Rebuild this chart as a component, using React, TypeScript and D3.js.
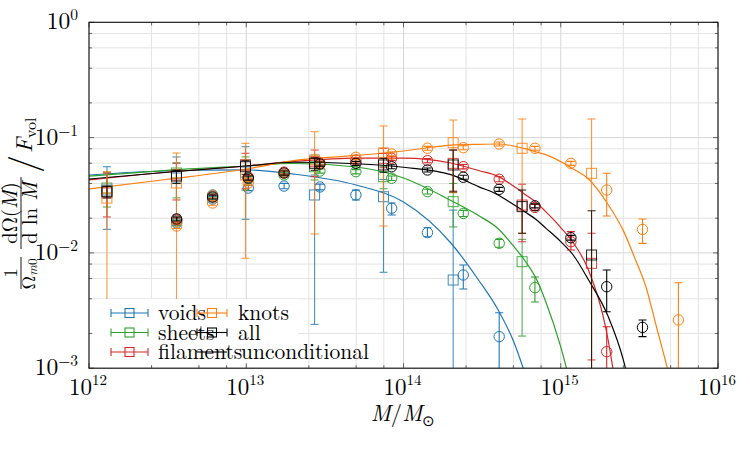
import React from "react";
import * as d3 from "d3";

// ---------- data ----------
const circleMass = [3.61e12, 6.11e12, 1.03e13, 1.74e13, 2.94e13, 4.98e13, 8.41e13, 1.42e14, 2.4e14, 4.06e14, 6.85e14, 1.16e15, 1.96e15, 3.31e15, 5.6e15];
const squareMass = [1.3e12, 3.6e12, 9.89e12, 2.72e13, 7.46e13, 2.07e14, 5.68e14, 1.57e15];

const voidsCircle = [0.0182, 0.0293, 0.0365, 0.038, 0.0373, 0.0318, 0.0244, 0.015, 0.00643, 0.00188, null, null, null, null, null];
const voidsCircleLo = [0.0172, 0.0278, 0.0347, 0.036, 0.0352, 0.0288, 0.0213, 0.0138, 0.00486, 0.0005, null, null, null, null, null];
const voidsCircleHi = [0.0192, 0.0309, 0.0384, 0.0401, 0.0395, 0.035, 0.0271, 0.0165, 0.00785, 0.00303, null, null, null, null, null];
const voidsSquare = [0.0351, 0.0446, 0.0503, 0.0318, 0.0307, 0.00582, null, null];
const voidsSquareLo = [0.016, 0.0213, 0.01956, 0.0024, 0.00679, 0.0002, null, null];
const voidsSquareHi = [0.0559, 0.0679, 0.0834, 0.0474, 0.0433, 0.0235, null, null];
const voidsCurveMass = [1e12, 3e12, 1e13, 2e13, 5e13, 1e14, 2e14, 3e14, 4e14, 5e14, 6e14];
const voidsCurve = [0.0474, 0.0513, 0.0524, 0.0483, 0.0388, 0.0276, 0.01219, 0.00582, 0.0032, 0.00172, 0.000856];

const sheetsCircle = [0.0189, 0.0318, 0.0437, 0.0474, 0.0513, 0.0506, 0.0444, 0.034, 0.022, 0.01212, 0.00499, null, null, null, null];
const sheetsCircleLo = [0.0181, 0.0305, 0.042, 0.0455, 0.0492, 0.0485, 0.0425, 0.0324, 0.0207, 0.0112, 0.00375, null, null, null, null];
const sheetsCircleHi = [0.0197, 0.0331, 0.0455, 0.0494, 0.0535, 0.0528, 0.0464, 0.0357, 0.0234, 0.0131, 0.00618, null, null, null, null];
const sheetsSquare = [0.0365, 0.0493, 0.0579, 0.0559, 0.0458, 0.0278, 0.00839, null];
const sheetsSquareLo = [0.025, 0.03, 0.035, 0.0429, 0.036, 0.0168, 0.0019, null];
const sheetsSquareHi = [0.05, 0.06, 0.068, 0.0706, 0.056, 0.04, 0.0131, null];
const sheetsCurveMass = [1e12, 3e12, 1e13, 2e13, 5e13, 1e14, 2e14, 3e14, 4e14, 5e14, 6e14, 7e14, 8e14, 1e15, 1.2e15];
const sheetsCurve = [0.0464, 0.0518, 0.0567, 0.0596, 0.0556, 0.0446, 0.0285, 0.0211, 0.0162, 0.01148, 0.00834, 0.00594, 0.00383, 0.00153, 0.000586];

const filamentsCircle = [0.0193, 0.0311, 0.0455, 0.0502, 0.0602, 0.0639, 0.0661, 0.0631, 0.0559, 0.0435, 0.0248, 0.0125, 0.00139, null, null];
const filamentsCircleLo = [0.0185, 0.0298, 0.0437, 0.0482, 0.0578, 0.0614, 0.0635, 0.0606, 0.0535, 0.0414, 0.0234, 0.0106, 0.0004, null, null];
const filamentsCircleHi = [0.0201, 0.0324, 0.0474, 0.0523, 0.0627, 0.0665, 0.0688, 0.0657, 0.0584, 0.0457, 0.0263, 0.0153, 0.00229, null, null];
const filamentsSquare = [0.0331, 0.0474, 0.0579, 0.0618, 0.0661, 0.0598, 0.026, 0.00812];
const filamentsSquareLo = [0.0205, 0.0288, 0.036, 0.0458, 0.0548, 0.0344, 0.0125, 0.00118];
const filamentsSquareHi = [0.0493, 0.0602, 0.0731, 0.078, 0.0808, 0.078, 0.0394, 0.0148];
const filamentsCurveMass = [1e12, 3e12, 1e13, 2e13, 5e13, 1e14, 2e14, 3e14, 4e14, 5e14, 6e14, 7e14, 8e14, 1e15, 1.2e15, 1.5e15, 2e15, 2.2e15];
const filamentsCurve = [0.0429, 0.0498, 0.0567, 0.0621, 0.0665, 0.0665, 0.0602, 0.0518, 0.0461, 0.038, 0.0318, 0.0273, 0.0229, 0.0166, 0.01226, 0.00711, 0.00176, 0.000806];

const knotsCircle = [0.0171, 0.0271, 0.0404, 0.0493, 0.059, 0.0675, 0.0721, 0.0808, 0.0817, 0.088, 0.0808, 0.0598, 0.0351, 0.016, 0.00262];
const knotsCircleLo = [0.0163, 0.0259, 0.0387, 0.0473, 0.0566, 0.0648, 0.0692, 0.0776, 0.0784, 0.0845, 0.0776, 0.0574, 0.0209, 0.0121, 0.0005];
const knotsCircleHi = [0.0179, 0.0283, 0.0421, 0.0513, 0.0614, 0.0702, 0.075, 0.084, 0.085, 0.0915, 0.084, 0.0622, 0.049, 0.0197, 0.00551];
const knotsSquare = [0.0299, 0.0404, 0.0474, 0.0639, 0.0735, 0.0903, 0.0808, 0.049];
const knotsSquareLo = [0.00159, 0.00228, 0.00898, 0.01459, 0.0171, 0.0333, 0.01479, 0.0004];
const knotsSquareHi = [0.0506, 0.0735, 0.0892, 0.1125, 0.126, 0.142, 0.145, 0.145];
const knotsCurveMass = [1e12, 3e12, 1e13, 2e13, 5e13, 1e14, 2e14, 3e14, 4e14, 5e14, 6e14, 7e14, 8e14, 1e15, 1.2e15, 1.5e15, 2e15, 2.5e15, 3e15, 3.5e15, 4e15, 4.5e15, 5e15];
const knotsCurve = [0.0358, 0.0431, 0.0534, 0.0631, 0.07, 0.0765, 0.0859, 0.0875, 0.088, 0.0846, 0.0798, 0.075, 0.0711, 0.0619, 0.0535, 0.0437, 0.0263, 0.0156, 0.00859, 0.00496, 0.00247, 0.00135, 0.000774];

const allCircle = [0.0197, 0.0305, 0.0446, 0.0493, 0.059, 0.0598, 0.0559, 0.0524, 0.0453, 0.0356, 0.0256, 0.01354, 0.00509, 0.00226, null];
const allCircleLo = [0.0189, 0.0293, 0.0428, 0.0473, 0.0566, 0.0574, 0.0537, 0.0503, 0.0435, 0.0342, 0.0246, 0.0129, 0.00309, 0.00188, null];
const allCircleHi = [0.0205, 0.0317, 0.0464, 0.0513, 0.0614, 0.0622, 0.0581, 0.0545, 0.0471, 0.037, 0.0266, 0.0142, 0.00711, 0.00262, null];
const allSquare = [0.034, 0.0464, 0.0559, 0.0598, 0.0579, 0.0579, 0.0252, 0.00959];
const allSquareLo = [0.03, 0.04, 0.048, 0.052, 0.05, 0.0338, 0.0148, 0.0004];
const allSquareHi = [0.038, 0.052, 0.063, 0.067, 0.066, 0.078, 0.0351, 0.0232];
const unconditionalCurveMass = [1e12, 3e12, 1e13, 2e13, 5e13, 1e14, 2e14, 3e14, 4e14, 5e14, 6e14, 7e14, 8e14, 1e15, 1.2e15, 1.5e15, 2e15, 2.5e15, 2.7e15];
const unconditionalCurve = [0.0437, 0.0498, 0.0567, 0.0611, 0.0593, 0.0553, 0.0478, 0.0376, 0.0318, 0.0263, 0.0224, 0.0194, 0.0165, 0.01253, 0.00959, 0.00585, 0.00282, 0.00118, 0.000774];

const xTickExponents = ["12", "13", "14", "15", "16"];
const yTickExponents = ["0", "\u22121", "\u22122", "\u22123"];
const xMajorValues = [1e12, 1e13, 1e14, 1e15, 1e16];
const yMajorValues = [1, 1e-1, 1e-2, 1e-3];
const xMinorMult = [2.5, 5, 7.5];
const yMinorMult = [2, 4, 6, 8];

const series = [
  { name: "voids", color: "#1f77b4", c: voidsCircle, cLo: voidsCircleLo, cHi: voidsCircleHi, s: voidsSquare, sLo: voidsSquareLo, sHi: voidsSquareHi, cm: voidsCurveMass, cv: voidsCurve },
  { name: "sheets", color: "#2ca02c", c: sheetsCircle, cLo: sheetsCircleLo, cHi: sheetsCircleHi, s: sheetsSquare, sLo: sheetsSquareLo, sHi: sheetsSquareHi, cm: sheetsCurveMass, cv: sheetsCurve },
  { name: "filaments", color: "#d62728", c: filamentsCircle, cLo: filamentsCircleLo, cHi: filamentsCircleHi, s: filamentsSquare, sLo: filamentsSquareLo, sHi: filamentsSquareHi, cm: filamentsCurveMass, cv: filamentsCurve },
  { name: "knots", color: "#ff7f0e", c: knotsCircle, cLo: knotsCircleLo, cHi: knotsCircleHi, s: knotsSquare, sLo: knotsSquareLo, sHi: knotsSquareHi, cm: knotsCurveMass, cv: knotsCurve },
  { name: "all", color: "#000000", c: allCircle, cLo: allCircleLo, cHi: allCircleHi, s: allSquare, sLo: allSquareLo, sHi: allSquareHi, cm: unconditionalCurveMass, cv: unconditionalCurve },
];

// ---------- layout ----------
const X0 = 89, X1 = 718, Y0 = 22.3, Y1 = 368.2;
const TS = { fontFamily: '"Latin Modern Roman"' };

export default function App() {
  const x = d3.scaleLog().domain([1e12, 1e16]).range([X0, X1]);
  const y = d3.scaleLog().domain([1e-3, 1]).range([Y1, Y0]);

  const xMinor: number[] = [];
  for (let i = 0; i < 4; i++) xMinorMult.forEach((m) => xMinor.push(m * xMajorValues[i]));
  const yMinor: number[] = [];
  for (let i = 1; i < 4; i++) yMinorMult.forEach((m) => yMinor.push(m * yMajorValues[i]));

  const line = d3
    .line<[number, number]>()
    .x((d) => x(d[0]))
    .y((d) => y(d[1]))
    .curve(d3.curveMonotoneX);

  const cap = 4;
  const errBar = (key: string, m: number, lo: number, hi: number, color: string, op: number) => (
    <g key={key} stroke={color} strokeWidth={1.1} opacity={op}>
      <line x1={x(m)} x2={x(m)} y1={y(lo)} y2={y(hi)} />
      <line x1={x(m) - cap} x2={x(m) + cap} y1={y(lo)} y2={y(lo)} />
      <line x1={x(m) - cap} x2={x(m) + cap} y1={y(hi)} y2={y(hi)} />
    </g>
  );

  const legendItems = [
    { label: "voids", color: "#1f77b4", bx0: 111, bx1: 148, tx: 158, row: 0, kind: "err" },
    { label: "sheets", color: "#2ca02c", bx0: 111, bx1: 148, tx: 158, row: 1, kind: "err" },
    { label: "filaments", color: "#d62728", bx0: 111, bx1: 148, tx: 158, row: 2, kind: "err" },
    { label: "knots", color: "#ff7f0e", bx0: 197, bx1: 227, tx: 238, row: 0, kind: "err" },
    { label: "all", color: "#000000", bx0: 197, bx1: 227, tx: 238, row: 1, kind: "err" },
    { label: "unconditional", color: "#000000", bx0: 197, bx1: 227, tx: 241, row: 2, kind: "line" },
  ];
  const rowY = [313, 332.5, 352];

  return (
    <svg width={750} height={450} style={{ position: "absolute", left: 0, top: 0, background: "#fff", fontFamily: '"Latin Modern Roman"' }}>
      <defs>
        <clipPath id="plotclip">
          <rect x={X0} y={Y0} width={X1 - X0} height={Y1 - Y0} />
        </clipPath>
      </defs>
      <rect x={0} y={0} width={750} height={450} fill="#fff" />

      {/* grid */}
      <g>
        {xMinor.map((v, i) => (
          <line key={"xm" + i} x1={x(v)} x2={x(v)} y1={Y0} y2={Y1} stroke="#e3e3e3" strokeWidth={1} />
        ))}
        {yMinor.map((v, i) => (
          <line key={"ym" + i} x1={X0} x2={X1} y1={y(v)} y2={y(v)} stroke="#e3e3e3" strokeWidth={1} />
        ))}
        {xMajorValues.map((v, i) => (
          <line key={"xM" + i} x1={x(v)} x2={x(v)} y1={Y0} y2={Y1} stroke="#d6d6d6" strokeWidth={1} />
        ))}
        {yMajorValues.map((v, i) => (
          <line key={"yM" + i} x1={X0} x2={X1} y1={y(v)} y2={y(v)} stroke="#d6d6d6" strokeWidth={1} />
        ))}
      </g>

      {/* data */}
      <g clipPath="url(#plotclip)">
        {series.map((s) => (
          <g key={s.name}>
            <path d={line(s.cm.map((m, i) => [m, s.cv[i]] as [number, number])) || ""} fill="none" stroke={s.color} strokeWidth={1.2} />
          </g>
        ))}
        {series.map((s) => (
          <g key={s.name + "pts"}>
            {squareMass.map((m, i) =>
              s.s[i] == null ? null : (
                <g key={"sq" + i}>
                  {errBar("e", m, s.sLo[i] as number, s.sHi[i] as number, s.color, 0.8)}
                  <rect x={x(m) - 5} y={y(s.s[i] as number) - 5} width={10} height={10} fill="none" stroke={s.color} strokeWidth={1} opacity={0.85} />
                </g>
              )
            )}
            {circleMass.map((m, i) =>
              s.c[i] == null ? null : (
                <g key={"ci" + i}>
                  {errBar("e", m, s.cLo[i] as number, s.cHi[i] as number, s.color, 1)}
                  <circle cx={x(m)} cy={y(s.c[i] as number)} r={5.2} fill="none" stroke={s.color} strokeWidth={1} />
                </g>
              )
            )}
          </g>
        ))}
      </g>

      {/* legend */}
      <rect x={93} y={299} width={205} height={66} fill="#fff" />
      {legendItems.map((it, i) => {
        const cy = rowY[it.row];
        const cx = (it.bx0 + it.bx1) / 2;
        return (
          <g key={"lg" + i}>
            <line x1={it.bx0} x2={it.bx1} y1={cy} y2={cy} stroke={it.color} strokeWidth={1.1} />
            {it.kind === "err" && (
              <g stroke={it.color} strokeWidth={1.1}>
                <line x1={it.bx0} x2={it.bx0} y1={cy - 4} y2={cy + 4} />
                <line x1={it.bx1} x2={it.bx1} y1={cy - 4} y2={cy + 4} />
                <rect x={cx - 4.5} y={cy - 4.5} width={9} height={9} fill="none" />
              </g>
            )}
            <text x={it.tx} y={cy + 7} fontSize={21.5} fill="#000" style={TS}>
              {it.label}
            </text>
          </g>
        );
      })}

      {/* axes frame and ticks */}
      <g stroke="#444" strokeWidth={0.8}>
        {xMinor.map((v, i) => (
          <g key={"xt" + i}>
            <line x1={x(v)} x2={x(v)} y1={Y1} y2={Y1 - 3} />
            <line x1={x(v)} x2={x(v)} y1={Y0} y2={Y0 + 3} />
          </g>
        ))}
        {xMajorValues.map((v, i) => (
          <g key={"xT" + i}>
            <line x1={x(v)} x2={x(v)} y1={Y1} y2={Y1 - 5} />
            <line x1={x(v)} x2={x(v)} y1={Y0} y2={Y0 + 5} />
          </g>
        ))}
        {yMinor.map((v, i) => (
          <g key={"yt" + i}>
            <line x1={X0} x2={X0 + 3} y1={y(v)} y2={y(v)} />
            <line x1={X1} x2={X1 - 3} y1={y(v)} y2={y(v)} />
          </g>
        ))}
        {yMajorValues.map((v, i) => (
          <g key={"yT" + i}>
            <line x1={X0} x2={X0 + 5} y1={y(v)} y2={y(v)} />
            <line x1={X1} x2={X1 - 5} y1={y(v)} y2={y(v)} />
          </g>
        ))}
      </g>
      <rect x={X0} y={Y0} width={X1 - X0} height={Y1 - Y0} fill="none" stroke="#111" strokeWidth={1.1} />

      {/* tick labels */}
      {xMajorValues.map((v, i) => (
        <text key={"xl" + i} x={x(v) - 1} y={395} textAnchor="middle" fontSize={23} fill="#000" style={TS}>
          10<tspan fontSize={15} dy={-10}>{xTickExponents[i]}</tspan>
        </text>
      ))}
      {yMajorValues.map((v, i) => (
        <text key={"yl" + i} x={78} y={y(v) + 7} textAnchor="end" fontSize={23.5} fill="#000" style={TS}>
          10<tspan fontSize={15.5} dy={-9}>{yTickExponents[i]}</tspan>
        </text>
      ))}

      {/* x label */}
      <text x={403} y={421} textAnchor="middle" fontSize={22.5} fill="#000" style={TS}>
        <tspan fontStyle="italic">M</tspan>/<tspan fontStyle="italic">M</tspan>
        <tspan fontSize={15} dy={5}>{"\u2299"}</tspan>
      </text>

      {/* y label */}
      <g transform="translate(22,205) rotate(-90)" fill="#000" style={TS}>
        <text x={-68} y={-5} textAnchor="middle" fontSize={19} style={TS}>1</text>
        <line x1={-84} x2={-52} y1={-1} y2={-1} stroke="#000" strokeWidth={0.9} />
        <text x={-69} y={13} textAnchor="middle" fontSize={19} style={TS}>
          Ω<tspan fontSize={13} dy={2} fontStyle="italic">m</tspan><tspan fontSize={13}>0</tspan>
        </text>
        <text x={-8} y={-5} textAnchor="middle" fontSize={21} style={TS}>
          dΩ(<tspan fontStyle="italic">M</tspan>)
        </text>
        <line x1={-44} x2={28} y1={-1} y2={-1} stroke="#000" strokeWidth={0.9} />
        <text x={-8} y={15} textAnchor="middle" fontSize={21} style={TS}>
          d ln <tspan fontStyle="italic">M</tspan>
        </text>
        <text x={41} y={13} textAnchor="middle" fontSize={36} style={TS}>/</text>
        <text x={52} y={10} fontSize={23} style={TS}>
          <tspan fontStyle="italic">F</tspan>
          <tspan fontSize={16} dy={4}>vol</tspan>
        </text>
      </g>
    </svg>
  );
}
